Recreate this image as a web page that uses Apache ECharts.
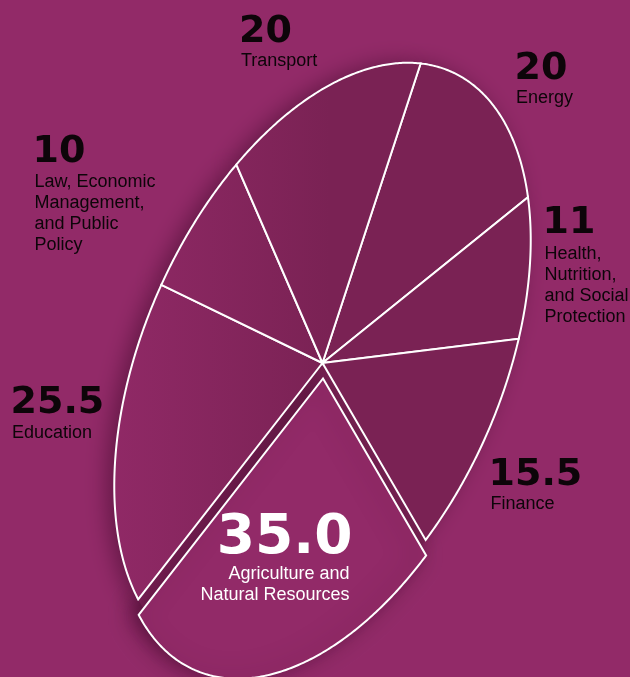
<!DOCTYPE html>
<html><head><meta charset="utf-8">
<script src="https://cdn.jsdelivr.net/npm/echarts@6/dist/echarts.min.js"></script>
<style>html,body{margin:0;padding:0;background:#922A68;overflow:hidden}#chart{width:630px;height:677px}</style>
</head><body><div id="chart"></div>
<script>
// ---- data ----
const categories = ['Energy', 'Health, Nutrition, and Social Protection', 'Finance',
  'Agriculture and Natural Resources', 'Education',
  'Law, Economic Management, and Public Policy', 'Transport'];
const values = [20, 11, 15.5, 35.0, 25.5, 10, 20];
const valueLabels = ['20', '11', '15.5', '35.0', '25.5', '10', '20'];
const labelLines = [['Energy'], ['Health,', 'Nutrition,', 'and Social', 'Protection'], ['Finance'],
  ['Agriculture and', 'Natural Resources'], ['Education'],
  ['Law, Economic', 'Management,', 'and Public', 'Policy'], ['Transport']];
const highlighted = 'Agriculture and Natural Resources';

// ---- layout / style ----
const GEO = {cx: 322.5, cy: 363, a: 318.5, b: 179.05, tilt: -66.2, start: -10};
const EXPLODE = [0.5, 15.5];
const LAYOUT = [
  {align: 'left', nx: 514.5, nb: 82.7, tx: 516, tb: 104},
  {align: 'left', nx: 542.5, nb: 236, tx: 544.5, tb: 260},
  {align: 'left', nx: 488.5, nb: 488.3, tx: 490.5, tb: 510},
  {align: 'right', nx: 352.5, nb: 558.3, tx: 349.5, tb: 580, size: 55, color: '#ffffff'},
  {align: 'left', nx: 10.5, nb: 416.7, tx: 12, tb: 439},
  {align: 'left', nx: 32.5, nb: 165.7, tx: 34.5, tb: 188.3},
  {align: 'left', nx: 239, nb: 45, tx: 241, tb: 66.7}
];
const LINE_H = 20.9;
const BG = '#922A68';
const NUM_FONT = '"DejaVu Sans", sans-serif';
const TXT_FONT = '"Liberation Sans", Arial, sans-serif';

const tr = GEO.tilt * Math.PI / 180;
const E1 = [Math.cos(tr), Math.sin(tr)];
const E2 = [-Math.sin(tr), Math.cos(tr)];
const total = values.reduce((s, v) => s + v, 0);

function pt(tDeg, dx, dy) {
  const t = tDeg * Math.PI / 180, c = Math.cos(t), s = Math.sin(t);
  return [GEO.cx + dx + GEO.a * c * E1[0] + GEO.b * s * E2[0],
          GEO.cy + dy + GEO.a * c * E1[1] + GEO.b * s * E2[1]];
}
function slicePts(t1, t2, dx, dy) {
  const pts = [[GEO.cx + dx, GEO.cy + dy]];
  const n = Math.max(4, Math.ceil((t2 - t1) / 0.5));
  for (let k = 0; k <= n; k++) pts.push(pt(t1 + (t2 - t1) * k / n, dx, dy));
  return pts;
}
function darkFill() {
  return new echarts.graphic.LinearGradient(112, 0, 330, 0,
    [{offset: 0, color: '#902966'}, {offset: 1, color: '#7A2254'}], true);
}

const chart = echarts.init(document.getElementById('chart'), null, {renderer: 'canvas'});

function renderItem(params, api) {
  const i = params.dataIndex;
  let acc = 0;
  for (let k = 0; k < i; k++) acc += values[k];
  const t1 = GEO.start + acc / total * 360;
  const t2 = t1 + values[i] / total * 360;
  const isHi = categories[i] === highlighted;
  const dx = isHi ? EXPLODE[0] : 0, dy = isHi ? EXPLODE[1] : 0;
  const shadow = {shadowBlur: 22, shadowColor: 'rgba(60,8,40,0.55)', shadowOffsetX: -7, shadowOffsetY: 0};
  const children = [];
  children.push({
    type: 'polygon', z2: 0, silent: true,
    shape: {points: slicePts(t1, t2, 0, 0)},
    style: Object.assign({fill: darkFill()}, shadow)
  });
  children.push({
    type: 'polygon', z2: isHi ? 5 : 10,
    shape: {points: slicePts(t1, t2, dx, dy)},
    style: Object.assign({fill: isHi ? BG : darkFill(), stroke: '#ffffff', lineWidth: 2}, isHi ? shadow : {})
  });
  const L = LAYOUT[i];
  const nSize = L.size || 38;
  const col = L.color || '#0d0509';
  children.push({
    type: 'text', z2: 20, x: L.nx, y: L.nb - 0.35 * nSize,
    style: {text: valueLabels[i], fill: col, fontFamily: NUM_FONT, fontWeight: 'bold', fontSize: nSize,
      align: L.align, verticalAlign: 'middle'}
  });
  labelLines[i].forEach((ln, k) => {
    children.push({
      type: 'text', z2: 20, x: L.tx, y: L.tb + k * LINE_H - 0.34 * 18,
      style: {text: ln, fill: col, fontFamily: TXT_FONT, fontSize: 18, align: L.align, verticalAlign: 'middle'}
    });
  });
  return {type: 'group', children};
}

chart.setOption({
  backgroundColor: BG,
  animation: false,
  series: [{
    type: 'custom',
    coordinateSystem: 'none',
    renderItem: renderItem,
    data: categories.map((c, i) => ({name: c, value: values[i]}))
  }]
});
</script>
</body></html>
